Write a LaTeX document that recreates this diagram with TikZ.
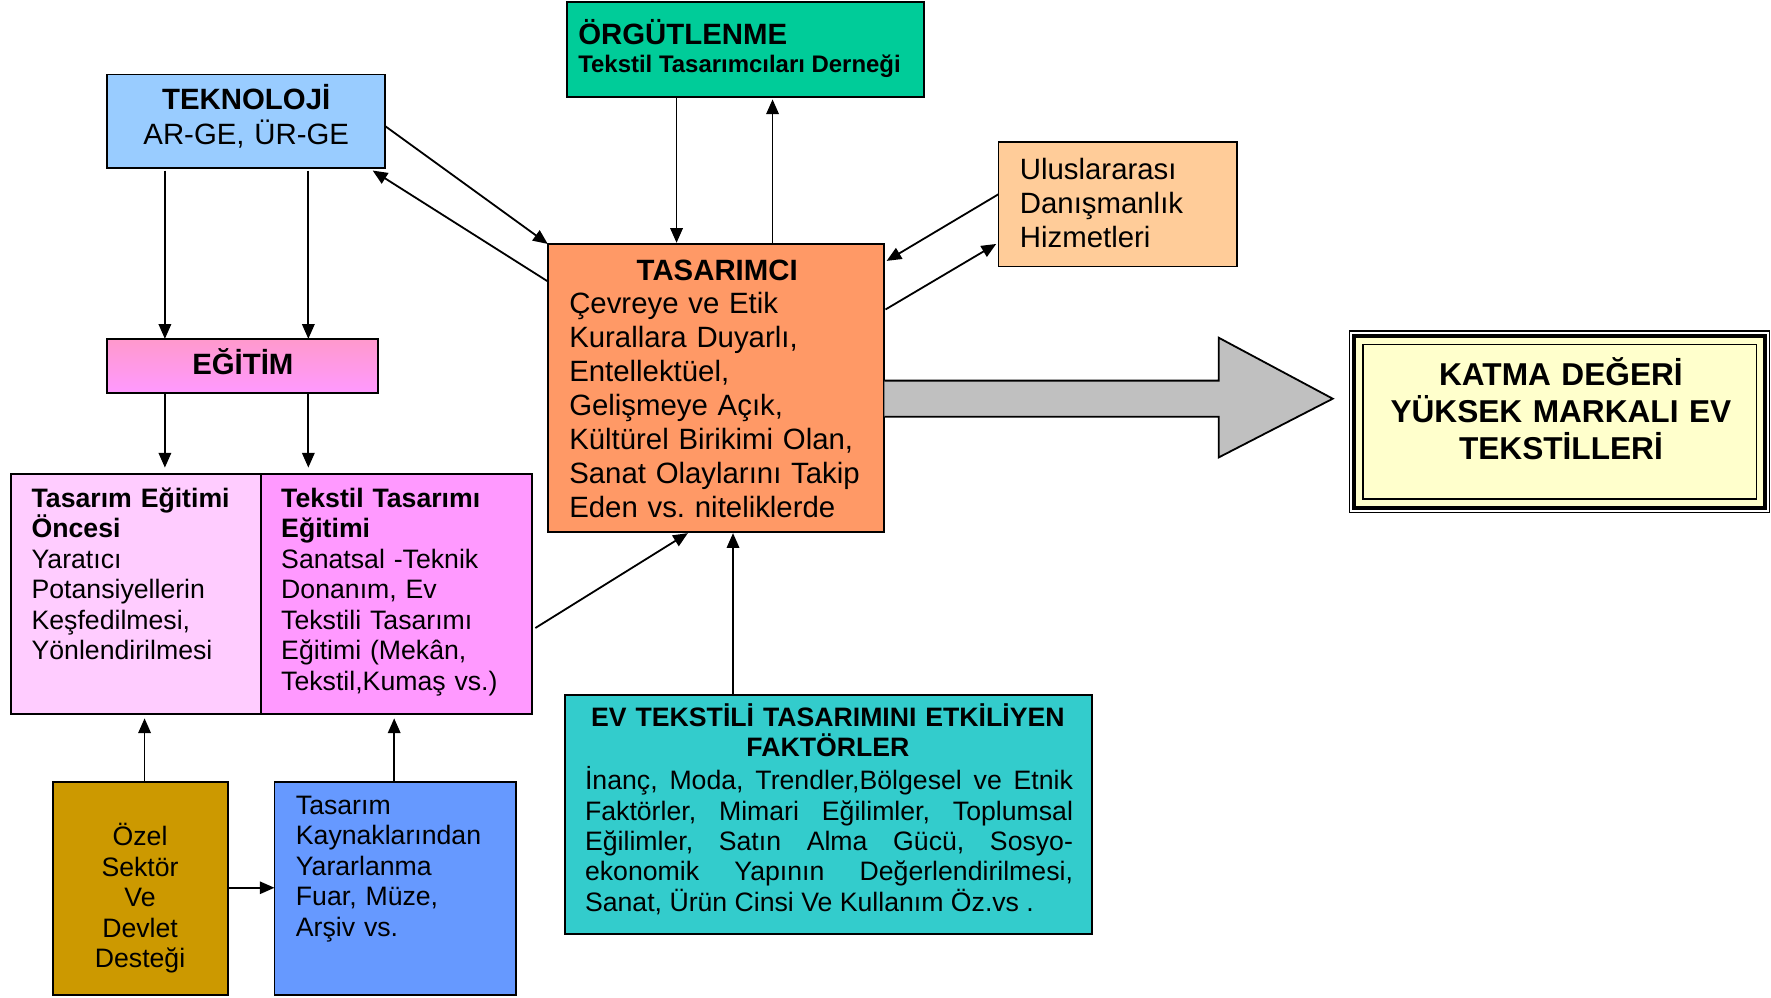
\documentclass[tikz,border=0pt]{standalone}
\usepackage{fontspec}
\setmainfont{Liberation Sans}
\usetikzlibrary{arrows.meta,calc}
\definecolor{cTek}{HTML}{99CCFF}
\definecolor{cOrg}{HTML}{00CC99}
\definecolor{cUlus}{HTML}{FFCC99}
\definecolor{cTas}{HTML}{FF9966}
\definecolor{cEgiTop}{HTML}{FF99CC}
\definecolor{cEgiBot}{HTML}{FF99FF}
\definecolor{cOnce}{HTML}{FFCCFF}
\definecolor{cTeks}{HTML}{FF99FF}
\definecolor{cOzel}{HTML}{CC9900}
\definecolor{cKayn}{HTML}{6699FF}
\definecolor{cEv}{HTML}{33CCCC}
\definecolor{cKatma}{HTML}{FFFFCC}
\definecolor{cBig}{HTML}{C0C0C0}
\frenchspacing
\begin{document}
\begin{tikzpicture}[x=0.5pt,y=-0.5pt,
  box/.style={draw=black, line width=0.8pt, inner sep=0pt, outer sep=0pt, anchor=north west},
  txt/.style={inner sep=0pt, outer sep=0pt, anchor=base west, align=left},
  ctxt/.style={inner sep=0pt, outer sep=0pt, anchor=base, align=center},
  fA/.style={font=\fontsize{13}{15}\selectfont},
  fB/.style={font=\fontsize{11.8}{13.5}\selectfont},
  arr/.style={line width=0.8pt, -{Triangle[length=6.5pt,width=5.5pt]}},
]
\useasboundingbox (0,0) rectangle (1568,883);

% boxes
\node[box, fill=cTek, minimum width=123pt, minimum height=41.5pt] (tek) at (95,66) {};
\node[box, fill=cOrg, minimum width=158pt, minimum height=42pt] (org) at (502,2) {};
\node[box, fill=cUlus, minimum width=105.5pt, minimum height=55pt] (ulus) at (884,126) {};
\node[box, fill=cTas, minimum width=149pt, minimum height=127.5pt] (tas) at (485,216) {};
\node[box, top color=cEgiTop, bottom color=cEgiBot, minimum width=120pt, minimum height=24pt] (egi) at (95,300) {};
\node[box, fill=cOnce, minimum width=110.5pt, minimum height=106pt] (once) at (10,420) {};
\node[box, fill=cTeks, minimum width=120pt, minimum height=106pt] (teks) at (231,420) {};
\node[box, fill=cOzel, minimum width=77.5pt, minimum height=94.5pt] (ozel) at (47,692) {};
\node[box, fill=cKayn, minimum width=107pt, minimum height=94.5pt] (kayn) at (243,692) {};
\node[box, fill=cEv, minimum width=233.5pt, minimum height=106pt] (ev) at (500,615) {};

% result box with triple border
\node[draw=black, line width=1.8pt, fill=cKatma, inner sep=0pt, outer sep=0pt,
      minimum width=181.75pt, minimum height=76pt] (katma) at (1380.75,373.5) {};
\draw[line width=0.5pt] ($(katma.north west)+(-4.5,-4.5)$) rectangle ($(katma.south east)+(4.5,4.5)$);
\draw[line width=0.7pt] ($(katma.north west)+(7.5,7.5)$) rectangle ($(katma.south east)+(-7.5,-7.5)$);

% big arrow
\draw[line width=0.8pt, fill=cBig] ($(tas.north east)+(0,121)$) -- (1079,337) -- (1079,299)
  -- (1180,353) -- (1079,405) -- (1079,369) -- ($(tas.north east)+(0,153)$);

% texts
\node[ctxt, font=\fontsize{13}{15.5}\selectfont, text width=120pt] (tekT) at (218,97) {\textbf{TEKNOLOJİ}\\AR-GE, ÜR-GE};
\node[txt, font=\fontsize{13}{15}\selectfont\bfseries] (orgT1) at (512,39) {ÖRGÜTLENME};
\node[txt, font=\fontsize{10.6}{12}\selectfont\bfseries] (orgT2) at (512,64) {Tekstil Tasarımcıları Derneği};
\node[txt, fA, text width=95pt] (ulusT) at (903,159) {Uluslararası\\Danışmanlık\\Hizmetleri};
\node[ctxt, font=\fontsize{13}{15}\selectfont\bfseries] (tasT1) at (635,248) {TASARIMCI};
\node[txt, fA, text width=140pt] (tasT2) at (504,278) {Çevreye ve Etik\\Kurallara Duyarlı,\\Entellektüel,\\Gelişmeye Açık,\\Kültürel Birikimi Olan,\\Sanat Olaylarını Takip\\Eden vs. niteliklerde};
\node[ctxt, font=\fontsize{13}{15}\selectfont\bfseries] (egiT) at (215,332) {EĞİTİM};
\node[txt, fB, text width=100pt] (onceT) at (28,449) {\textbf{Tasarım Eğitimi}\\\textbf{Öncesi}\\Yaratıcı\\Potansiyellerin\\Keşfedilmesi,\\Yönlendirilmesi};
\node[txt, fB, text width=110pt] (teksT) at (249,449) {\textbf{Tekstil Tasarımı}\\\textbf{Eğitimi}\\Sanatsal -Teknik\\Donanım, Ev\\Tekstili Tasarımı\\Eğitimi (Mekân,\\Tekstil,Kumaş vs.)};
\node[ctxt, fB, text width=70pt] (ozelT) at (124,749) {Özel\\Sektör\\Ve\\Devlet\\Desteği};
\node[txt, fB, text width=100pt] (kaynT) at (262,721) {Tasarım\\Kaynaklarından\\Yararlanma\\Fuar, Müze,\\Arşiv vs.};
\node[ctxt, font=\fontsize{11.8}{13.5}\selectfont\bfseries, text width=230pt] (evT1) at (733,643) {EV TEKSTİLİ TASARIMINI ETKİLİYEN\\FAKTÖRLER};
\node[txt, fB, text width=216pt, align=justify] (evT2) at (518,699)
  {\tolerance=10000 \hbadness=10000 \hyphenpenalty=10000 \exhyphenpenalty=0 %
   İnanç, Moda, Trendler,Bölgesel ve Etnik\linebreak Faktörler, Mimari Eğilimler, Toplumsal\linebreak Eğilimler, Satın Alma Gücü, Sosyo-\linebreak ekonomik Yapının Değerlendirilmesi,\linebreak Sanat, Ürün Cinsi Ve Kullanım Öz.vs .};
\node[ctxt, font=\fontsize{14}{16.5}\selectfont\bfseries, text width=175pt] (katmaT) at (1382,341) {KATMA DEĞERİ\\YÜKSEK MARKALI EV\\TEKSTİLLERİ};

% connectors
\draw[arr] ($(tek.north east)!0.55!(tek.south east)$) -- (tas.north west);
\draw[arr] ($(tas.north west)!0.13!(tas.south west)$) -- ($(tek.south east)+(-11,2)$);
\draw[arr] ($(tek.south west)+(51,2)$) -- ($(egi.north west)+(51,0)$);
\draw[arr] ($(tek.south west)+(178,2)$) -- ($(egi.north west)+(178,0)$);
\draw[arr] ($(egi.south west)+(51,0)$) -- ($(once.north west)+(136,-6)$);
\draw[arr] ($(egi.south west)+(178,0)$) -- ($(teks.north west)+(42,-6)$);
\draw[arr] ($(org.south west)+(97,0)$) -- ($(tas.north west)+(114,-1)$);
\draw[arr] ($(tas.north west)+(199,0)$) -- ($(org.south west)+(182,2)$);
\draw[arr] ($(ulus.north west)+(0,46)$) -- ($(tas.north east)+(2,15)$);
\draw[arr] ($(tas.north east)+(1,58)$) -- ($(ulus.north west)+(-2,90)$);
\draw[arr] ($(teks.north east)+(3,136)$) -- ($(tas.south west)+(124,1)$);
\draw[arr] ($(ev.north west)+(149,0)$) -- ($(tas.south west)+(164,1)$);
\draw[arr] ($(ozel.north west)+(81,0)$) -- ($(once.south west)+(118,4)$);
\draw[arr] ($(kayn.north west)+(106,0)$) -- ($(teks.south west)+(118,4)$);
\draw[arr] ($(ozel.north east)+(0,94)$) -- ($(kayn.north west)+(0,94)$);
\end{tikzpicture}
\end{document}
